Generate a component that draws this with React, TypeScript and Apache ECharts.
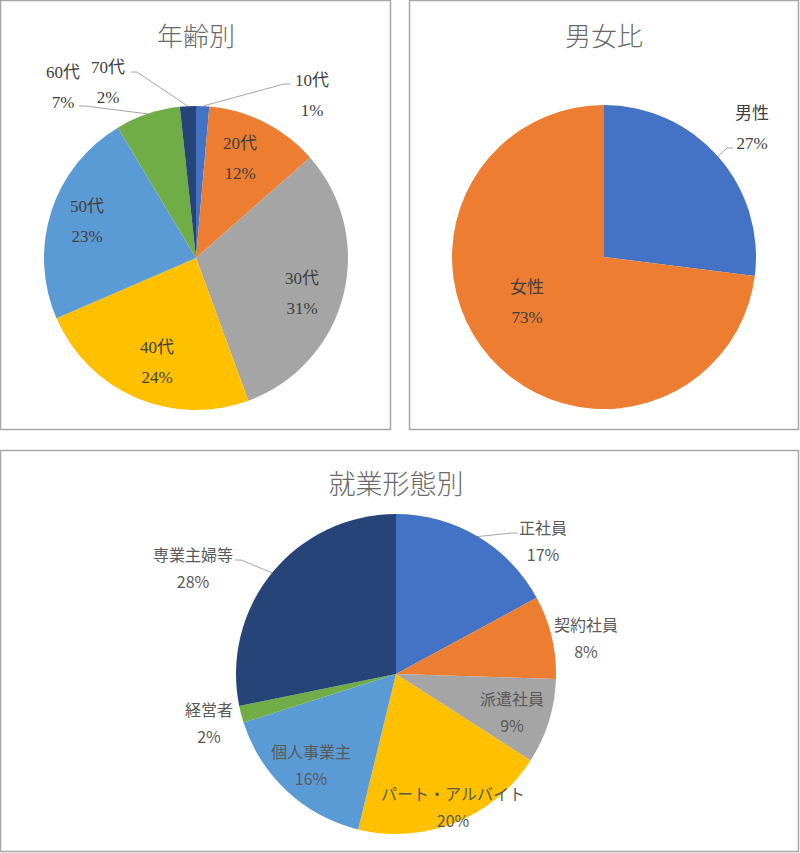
import React, { useEffect, useRef } from "react";
import * as echarts from "echarts";

// ---- data ----
const ageTitle = "年齢別";
const ageNames = ["10代", "20代", "30代", "40代", "50代", "60代", "70代"];
const ageValues = [1.4, 12.1, 30.9, 24.1, 22.9, 6.9, 1.7];

const sexTitle = "男女比";
const sexNames = ["男性", "女性"];
const sexValues = [27, 73];

const jobTitle = "就業形態別";
const jobNames = ["正社員", "契約社員", "派遣社員", "パート・アルバイト", "個人事業主", "経営者", "専業主婦等"];
const jobValues = [17.1, 8.4, 8.6, 19.7, 16.3, 1.7, 28.2];

const colors = ["#4472C4", "#ED7D31", "#A5A5A5", "#FFC000", "#5B9BD5", "#70AD47", "#264478"];

// ---- label layout (offsets from pie centre, px) ----
const ageLabelPos = [[116, -163], [44, -100], [106, 35], [-39, 104], [-109, -37], [-133, -171], [-88, -176]];
const ageLineEnd: (number[] | null)[] = [[94, -174], null, null, null, null, [-117, -152], [-65, -186]];
const sexLabelPos = [[148, -129], [-77, 45]];
const sexLineEnd: (number[] | null)[] = [[129, -109], null];
const jobLabelPos = [[147, -134], [190, -37], [116, 37], [57, 132], [-85, 90], [-187, 48], [-203, -107]];
const jobLineEnd: (number[] | null)[] = [[122, -141], null, null, null, null, null, [-161, -114]];

function makeLayout(cx: number, cy: number, r: number, values: number[], pos: number[][], lineEnd: (number[] | null)[]) {
  const total = values.reduce((a, b) => a + b, 0);
  return (params: any) => {
    const i = params.dataIndex;
    const p = pos[i];
    const res: any = { x: cx + p[0], y: cy + p[1], align: "center", verticalAlign: "middle" };
    const le = lineEnd[i];
    if (le) {
      let before = 0;
      for (let k = 0; k < i; k++) before += values[k];
      const mid = ((before + values[i] / 2) / total) * Math.PI * 2;
      const sx = cx + r * Math.sin(mid);
      const sy = cy - r * Math.cos(mid);
      const ex = cx + le[0];
      const ey = cy + le[1];
      const sgn = ex > sx ? 1 : -1;
      res.labelLinePoints = [[sx, sy], [ex - 6 * sgn, ey], [ex, ey]];
    }
    return res;
  };
}

function makeData(names: string[], values: number[], lineEnd: (number[] | null)[]) {
  return names.map((n, i) => ({
    name: n,
    value: values[i],
    itemStyle: { color: colors[i % colors.length] },
    label: { position: lineEnd[i] ? "outside" : "inside" },
    labelLine: { show: !!lineEnd[i] },
  }));
}

const topFont = "'Liberation Serif', 'Noto Sans CJK JP', serif";
const botFont = "'Noto Sans CJK JP', sans-serif";

export default function App() {
  const ref = useRef<HTMLDivElement>(null);
  useEffect(() => {
    if (!ref.current) return;
    const chart = echarts.init(ref.current, undefined, { renderer: "svg" });
    const fmt = (p: any) => `${p.name}\n${Math.round(p.percent)}%`;
    const pie = (cx: number, cy: number, r: number, names: string[], values: number[], pos: number[][], le: (number[] | null)[], font: string, size: number, lh: number, color: string) => ({
      type: "pie",
      center: [cx, cy],
      radius: r,
      startAngle: 90,
      clockwise: true,
      avoidLabelOverlap: false,
      silent: true,
      itemStyle: { borderWidth: 0 },
      label: { show: true, formatter: fmt, fontSize: size, lineHeight: lh, color, fontFamily: font },
      labelLine: { show: true, length: 10, length2: 6, lineStyle: { color: "#A6A6A6", width: 1 } },
      labelLayout: makeLayout(cx, cy, r, values, pos, le),
      data: makeData(names, values, le),
    });
    const titleStyle = (text: string, size: number) => ({ text, fontSize: size, fontWeight: 300, fill: "#6A6A6A", fontFamily: "'Noto Sans CJK JP', sans-serif", align: "center", verticalAlign: "middle" });
    chart.setOption({
      animation: false,
      graphic: [
        { type: "rect", shape: { x: 0.5, y: 0.5, width: 390, height: 429 }, style: { fill: "none", stroke: "#A6A6A6", lineWidth: 1.5 } },
        { type: "rect", shape: { x: 409.5, y: 0.5, width: 389, height: 429 }, style: { fill: "none", stroke: "#A6A6A6", lineWidth: 1.5 } },
        { type: "rect", shape: { x: 0.5, y: 450.5, width: 798, height: 401 }, style: { fill: "none", stroke: "#A6A6A6", lineWidth: 1.5 } },
        { type: "text", x: 196, y: 34, style: titleStyle(ageTitle, 26) },
        { type: "text", x: 604, y: 34, style: titleStyle(sexTitle, 26) },
        { type: "text", x: 396, y: 482, style: titleStyle(jobTitle, 27) },
      ],
      series: [
        pie(196, 258, 152, ageNames, ageValues, ageLabelPos, ageLineEnd, topFont, 17, 30, "#404040"),
        pie(604, 257, 152, sexNames, sexValues, sexLabelPos, sexLineEnd, topFont, 17, 30, "#404040"),
        pie(396, 674, 160, jobNames, jobValues, jobLabelPos, jobLineEnd, botFont, 16, 27, "#595959"),
      ],
    });
    return () => chart.dispose();
  }, []);
  return <div ref={ref} style={{ position: "absolute", left: 0, top: 0, width: 800, height: 853 }} />;
}
